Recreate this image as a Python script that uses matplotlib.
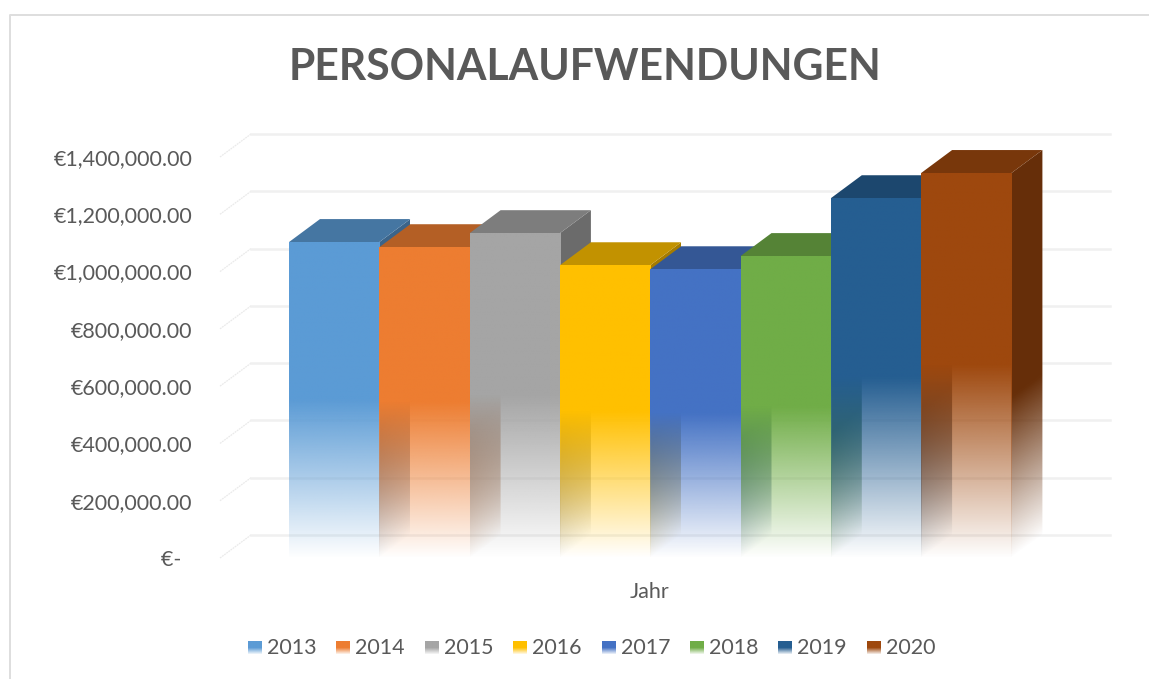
import numpy as np
import matplotlib
matplotlib.use('Agg')
from matplotlib import pyplot as plt
from matplotlib.colors import to_rgb
from matplotlib.patches import Polygon

years = ['2013', '2014', '2015', '2016', '2017', '2018', '2019', '2020']
values = [1103000, 1085000, 1134000, 1022000, 1008000, 1054000, 1256000, 1344000]
colors = ['#5B9BD5', '#ED7D31', '#A5A5A5', '#FFC000', '#4472C4', '#70AD47', '#255E91', '#9E480E']
tick_values = [0, 200000, 400000, 600000, 800000, 1000000, 1200000, 1400000]
tick_labels = ['€-  ', '€200,000.00', '€400,000.00', '€600,000.00', '€800,000.00',
               '€1,000,000.00', '€1,200,000.00', '€1,400,000.00']

W, H = 1149, 679
plt.rcParams['font.family'] = ['Lato', 'DejaVu Sans']
text_col = '#595959'
grid_col = '#F0F0F0'

fig = plt.figure(figsize=(W / 100, H / 100), dpi=100)

# chart frame + legend live in a pixel axes
bg = fig.add_axes([0, 0, 1, 1])
bg.axis('off')
bg.plot([9.5, 9.5, 1149], [H, 14.5, 14.5], color='#DEDEDE', lw=1.4)

# plot axes: y is the front wall, 558px = 0 and 157px = 1.4M
x0, x1, y0, y1 = 220, 1110, 558, 157
ax = fig.add_axes([x0 / W, 1 - y0 / H, (x1 - x0) / W, (y0 - y1) / H])
ax.patch.set_alpha(0)
bar_px = 90.3
xl, xr = -0.5 - (289 - x0) / bar_px, -0.5 + (x1 - 289) / bar_px
for s in ax.spines.values():
    s.set_visible(False)

# depth of the fake 3D
dep_x = 31 / bar_px
dep_y = 23 / (y0 - y1) * 1400000

for v in tick_values:
    ax.plot([xl, xl + dep_x], [v, v + dep_y], color='#EAEAEA', lw=0.9, ls=(0, (1.5, 0.6)),
            clip_on=False, zorder=0)
    ax.plot([xl + dep_x, xr], [v + dep_y, v + dep_y], color=grid_col, lw=1.8, clip_on=False, zorder=0)

ax.set_yticks(tick_values, tick_labels)
ax.tick_params(axis='y', length=0, pad=20, labelsize=15.5, labelcolor=text_col)
ax.set_xticks([])
ax.set_xlabel('Jahr', fontsize=15.5, color=text_col)
ax.xaxis.set_label_coords(0.483, -0.06)


def shade(col, k):
    return tuple(c * k for c in to_rgb(col))


def fade_img(col, val, span, slope, gain=1.0, nx=32, ny=500):
    # alpha goes 0..1 over the lower half of the bar, following the depth slope
    xs = (np.arange(nx) + 0.5) / nx * span
    ys = (np.arange(ny) + 0.5) / ny * (val + slope * span)
    xx, yy = np.meshgrid(xs, ys)
    rgba = np.ones((ny, nx, 4))
    rgba[..., :3] = col
    rgba[..., 3] = np.clip(gain * (yy - slope * xx) / (val / 2), 0, 1)
    return rgba


# left to right so the next bar paints over the side of the previous one
for i, (val, col) in enumerate(zip(values, colors)):
    a, b = i - 0.5, i + 0.5
    top = shade(col, 0.76)
    side = shade(col, 0.65)
    z = 2 + i

    # side
    im = ax.imshow(fade_img(side, val, dep_x, dep_y / dep_x, gain=1.2), extent=[b, b + dep_x, 0, val + dep_y],
                   origin='lower', aspect='auto', interpolation='bilinear', zorder=z)
    clip = Polygon([(b, 0), (b + dep_x, dep_y), (b + dep_x, val + dep_y), (b, val)], transform=ax.transData)
    im.set_clip_path(clip)
    im.set_clip_box(fig.bbox)
    # top
    ax.fill([a, b, b + dep_x, a + dep_x], [val, val, val + dep_y, val + dep_y],
            color=top, lw=0, clip_on=False, zorder=z)
    # front
    ax.imshow(fade_img(to_rgb(col), val, 1, 0, nx=2), extent=[a, b, 0, val], origin='lower',
              aspect='auto', interpolation='bilinear', clip_on=False, zorder=z)

ax.set_xlim(xl, xr)
ax.set_ylim(0, 1400000)

fig.text(585.5 / W, 1 - 67 / H, 'PERSONALAUFWENDUNGEN', fontsize=30.7, fontweight='bold',
         color=text_col, ha='center', va='center')

# legend
for i, (yr, col) in enumerate(zip(years, colors)):
    lx = 248 + 88.4 * i
    g = np.ones((14, 1, 4))
    g[:, 0, :3] = to_rgb(col)
    g[:, 0, 3] = np.clip(np.linspace(1.9, 0, 14), 0, 1)
    bg.imshow(g, extent=[lx, lx + 14, 655, 641], aspect='auto', interpolation='bilinear', zorder=3)
    bg.text(lx + 19, 648, yr, fontsize=15.4, color=text_col, va='center', ha='left')
bg.set_xlim(0, W)
bg.set_ylim(H, 0)

fig.savefig('out.png', dpi=100)
